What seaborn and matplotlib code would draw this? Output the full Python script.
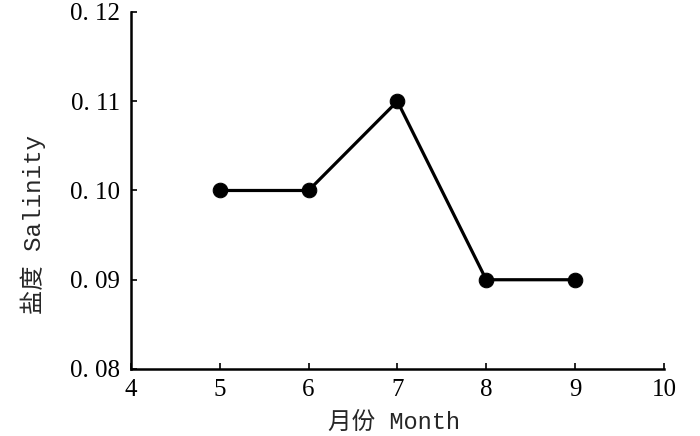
import pandas as pd
import matplotlib
matplotlib.use('Agg')
import matplotlib.pyplot as plt
import seaborn as sns

# 数据
months = [5, 6, 7, 8, 9]
salinity = [0.10, 0.10, 0.11, 0.09, 0.09]
x_ticks = [4, 5, 6, 7, 8, 9, 10]
y_ticks = [0.08, 0.09, 0.10, 0.11, 0.12]
y_tick_labels = ['0. 08', '0. 09', '0. 10', '0. 11', '0. 12']

sns.set_style('ticks')
plt.rcParams['font.family'] = ['Liberation Serif', 'Noto Sans CJK SC', 'DejaVu Sans']
plt.rcParams['axes.unicode_minus'] = False

df = pd.DataFrame({'month': months, 'salinity': salinity})

fig = plt.figure(figsize=(7, 4.36), dpi=100)
ax = fig.add_axes([0.187, 0.1537, 0.7614, 0.8188])

sns.lineplot(data=df, x='month', y='salinity', ax=ax, color='black',
             linewidth=2.3, marker='o', markersize=10.5,
             markerfacecolor='black', markeredgecolor='black')

ax.set_xlim(4, 10)
ax.set_ylim(0.08, 0.12)
ax.set_xticks(x_ticks)
ax.set_xticklabels([str(t) for t in x_ticks])
ax.set_yticks(y_ticks)
ax.set_yticklabels(y_tick_labels)
ax.tick_params(direction='in', length=4, width=1.2, labelsize=18,
               colors='black')
ax.tick_params(axis='x', pad=7)
ax.tick_params(axis='y', pad=8)

for s in ['top', 'right']:
    ax.spines[s].set_visible(False)
for s in ['left', 'bottom']:
    ax.spines[s].set_linewidth(1.8)
    ax.spines[s].set_color('black')

mono = ['Liberation Mono', 'Noto Sans CJK SC']
ax.set_xlabel('月份 Month', family=mono, fontsize=17)
ax.set_ylabel('盐度 Salinity', family=mono, fontsize=17.5)
ax.xaxis.set_label_coords(0.493, -0.118)
ax.yaxis.set_label_coords(-0.16, 0.406)

fig.savefig('out.png', dpi=100, facecolor='white')
